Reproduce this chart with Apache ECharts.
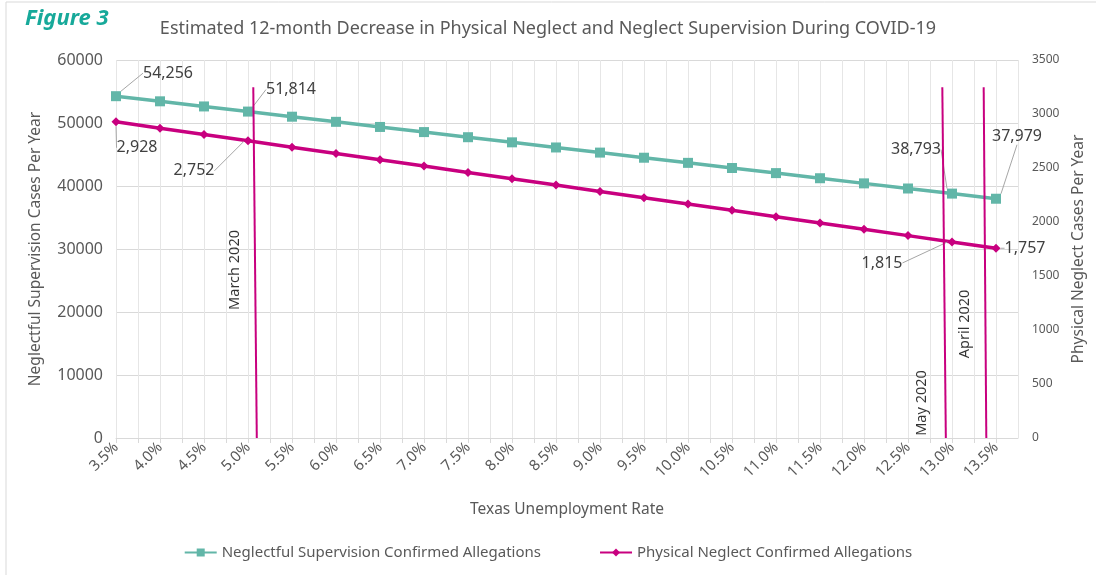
<!DOCTYPE html>
<html>
<head>
<meta charset="utf-8">
<script src="https://cdn.jsdelivr.net/npm/echarts@6/dist/echarts.min.js"></script>
<style>
html,body{margin:0;padding:0;background:#fff;}
#main{width:1096px;height:575px;}
</style>
</head>
<body>
<div id="main"></div>
<script>
// ---- data ----
const rates = [3.5,4.0,4.5,5.0,5.5,6.0,6.5,7.0,7.5,8.0,8.5,9.0,9.5,10.0,10.5,11.0,11.5,12.0,12.5,13.0,13.5];
const neglectfulSupervision = [54256,53442,52628,51814,51000,50186,49372,48558,47744,46930,46116,45302,44488,43674,42860,42046,41232,40418,39604,38793,37979];
const physicalNeglect = [2928,2869,2811,2752,2693,2635,2576,2518,2459,2400,2342,2283,2225,2166,2108,2049,1991,1932,1874,1815,1757];
const labelledIdx = [0,3,19,20];
const marchLine = [[5.10,0],[5.06,3247]];
const mayLine = [[12.93,0],[12.89,3247]];
const aprilLine = [[13.39,0],[13.36,3247]];
const eventNames = ['March 2020','May 2020','April 2020'];
const eventLabelPos = [[4.85,1556],[12.655,324],[13.147,1056]];
const leftTicks = [0,10000,20000,30000,40000,50000,60000];
const rightTicks = [0,500,1000,1500,2000,2500,3000,3500];

// label offsets (styling)
const nsOffsets = {0:[52,-23],3:[43,-22],19:[-36,-44],20:[21,-62]};
const pnOffsets = {0:[21,26],3:[-54,30],19:[-70,21],20:[29,0]};

const TEAL = '#62B6A8';
const MAG = '#C8007F';
const GREY = '#595959';
const FONT = '"Noto Sans", "Open Sans", sans-serif';

function fmt(v){ return v.toLocaleString('en-US'); }

function mkData(vals){
  return vals.map((v,i)=>{
    const d = {value:[rates[i], v]};
    if(labelledIdx.includes(i)) d.label = {show:true};
    return d;
  });
}

const chart = echarts.init(document.getElementById('main'));
const option = {
  backgroundColor:'#fff',
  animation:false,
  textStyle:{fontFamily:FONT},
  graphic:[
    {type:'rect', shape:{x:6,y:2,width:1200,height:700}, style:{fill:'none', stroke:'#D9D9D9', lineWidth:1}, silent:true},
    {type:'text', left:25, top:8, style:{text:'Figure 3', font:'italic bold 22px '+FONT, fill:'#17A99A'}}
  ],
  title:{
    text:'Estimated 12-month Decrease in Physical Neglect and Neglect Supervision During COVID-19',
    left:'center', top:15,
    textStyle:{fontSize:18, fontWeight:'normal', color:GREY, fontFamily:FONT}
  },
  legend:{
    data:['Neglectful Supervision Confirmed Allegations','Physical Neglect Confirmed Allegations'],
    bottom:10, left:'center', itemGap:58, itemWidth:32, itemHeight:10,
    textStyle:{fontSize:15, color:GREY, fontFamily:FONT}
  },
  grid:{left:116, right:78, top:60, bottom:137},
  xAxis:{
    type:'value', min:3.5, max:13.75, interval:0.25,
    name:'Texas Unemployment Rate', nameLocation:'middle', nameGap:64,
    nameTextStyle:{fontSize:15.5, color:GREY},
    axisLine:{lineStyle:{color:'#D9D9D9'}},
    axisTick:{show:true, length:5, lineStyle:{color:'#D9D9D9'}},
    splitLine:{show:true, lineStyle:{color:'#E6E6E6'}},
    axisLabel:{
      rotate:45, fontSize:15, color:GREY, margin:7, showMaxLabel:false,
      formatter:function(v){
        const i = rates.findIndex(r=>Math.abs(r-v)<1e-6);
        return i>=0 ? rates[i].toFixed(1)+'%' : '';
      }
    }
  },
  yAxis:[
    {
      type:'value', min:leftTicks[0], max:leftTicks[leftTicks.length-1], interval:10000,
      name:'Neglectful Supervision Cases Per Year', nameLocation:'middle', nameGap:72,
      nameTextStyle:{fontSize:15.5, color:GREY},
      axisLine:{show:false}, axisTick:{show:false},
      splitLine:{lineStyle:{color:'#D9D9D9'}},
      axisLabel:{fontSize:16, color:GREY, margin:13, formatter:v=>String(v)}
    },
    {
      type:'value', min:rightTicks[0], max:rightTicks[rightTicks.length-1], interval:500,
      name:'Physical Neglect Cases Per Year', nameLocation:'middle', nameGap:50,
      nameTextStyle:{fontSize:15.5, color:GREY},
      axisLine:{show:false}, axisTick:{show:false}, splitLine:{show:false},
      axisLabel:{fontSize:12, color:GREY, margin:14, formatter:v=>String(v)}
    }
  ],
  series:[
    {
      name:'Neglectful Supervision Confirmed Allegations',
      type:'line', yAxisIndex:0, data:mkData(neglectfulSupervision),
      symbol:'rect', symbolSize:10, itemStyle:{color:TEAL}, lineStyle:{color:TEAL, width:3.5},
      label:{show:false, position:'inside', fontSize:16, color:'#404040',
        formatter:p=>fmt(p.value[1])},
      labelLine:{show:true, lineStyle:{color:'#A6A6A6', width:1}},
      labelLayout:function(p){ const o = nsOffsets[p.dataIndex]; return o?{dx:o[0],dy:o[1]}:{}; },
      z:3
    },
    {
      name:'Physical Neglect Confirmed Allegations',
      type:'line', yAxisIndex:1, data:mkData(physicalNeglect),
      symbol:'diamond', symbolSize:9, itemStyle:{color:MAG}, lineStyle:{color:MAG, width:3.5},
      label:{show:false, position:'inside', fontSize:16, color:'#404040',
        formatter:p=>fmt(p.value[1])},
      labelLine:{show:true, lineStyle:{color:'#A6A6A6', width:1}},
      labelLayout:function(p){ const o = pnOffsets[p.dataIndex]; return o?{dx:o[0],dy:o[1]}:{}; },
      z:3
    },
    ...[marchLine, mayLine, aprilLine].map(d=>({
      type:'line', yAxisIndex:1, data:d, symbol:'none',
      lineStyle:{color:MAG, width:2}, z:4, silent:true
    })),
    {
      type:'scatter', yAxisIndex:1, symbolSize:0, silent:true,
      data:eventLabelPos.map((p,i)=>({value:p, name:eventNames[i]})),
      label:{show:true, position:'inside', rotate:90, formatter:p=>p.name, fontSize:14.5, color:'#000'}
    }
  ]
};
chart.setOption(option);
</script>
</body>
</html>
